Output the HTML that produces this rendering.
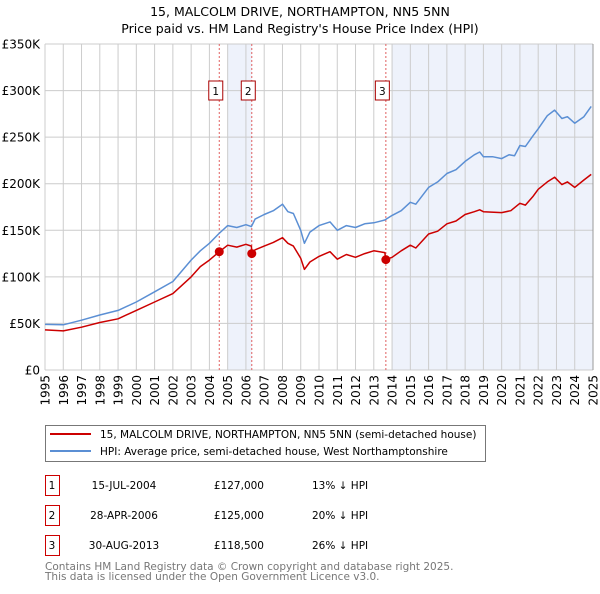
<!DOCTYPE html>
<html><head><meta charset="utf-8"><style>
body{margin:0;background:#fff;font-family:"DejaVu Sans","Liberation Sans",sans-serif;}
svg text{font-family:"DejaVu Sans","Liberation Sans",sans-serif;}
</style></head><body>
<svg id="c" width="600" height="590" viewBox="0 0 600 590" xmlns="http://www.w3.org/2000/svg">
<text x="300" y="16" text-anchor="middle" font-size="12.5" fill="#000">15, MALCOLM DRIVE, NORTHAMPTON, NN5 5NN</text>
<text x="300" y="33" text-anchor="middle" font-size="12.5" fill="#000">Price paid vs. HM Land Registry's House Price Index (HPI)</text>
<g id="plot"></g>
<rect x="45.5" y="425.5" width="440" height="36" fill="#fff" stroke="#777"/>
<line x1="50" y1="434" x2="91" y2="434" stroke="#cc0000" stroke-width="2"/>
<text x="100" y="438" font-size="10.5">15, MALCOLM DRIVE, NORTHAMPTON, NN5 5NN (semi-detached house)</text>
<line x1="50" y1="451" x2="91" y2="451" stroke="#5b8fd4" stroke-width="2"/>
<text x="100" y="455" font-size="10.5">HPI: Average price, semi-detached house, West Northamptonshire</text>
<g id="table" font-size="10.5"></g>
<text x="45" y="570" font-size="10.5" fill="#777">Contains HM Land Registry data © Crown copyright and database right 2025.</text>
<text x="45" y="580" font-size="10.5" fill="#777">This data is licensed under the Open Government Licence v3.0.</text>
</svg>
<script>
const hpiYears=[1995,1996,1997,1998,1999,2000,2001,2002,2003,2003.5,2004,2004.5,2005,2005.5,2006,2006.3,2006.5,2007,2007.5,2008,2008.3,2008.6,2009,2009.2,2009.5,2010,2010.6,2011,2011.5,2012,2012.5,2013,2013.6,2014,2014.5,2015,2015.3,2016,2016.5,2017,2017.5,2018,2018.5,2018.8,2019,2019.5,2020,2020.4,2020.7,2021,2021.3,2021.7,2022,2022.5,2022.9,2023.3,2023.6,2024,2024.5,2024.9];
const hpiValues=[49,48.5,53.5,59,64,73,84,95,118,128,136,146,155,153,156,154,162,167,171,178,170,168,150,136,148,155,159,150,155,153,157,158,161,166,171,180,178,196,202,211,215,224,231,234,229,229,227,231,230,241,240,251,259,273,279,270,272,265,272,283];
const priceYears=[1995,1996,1997,1998,1999,2000,2001,2002,2003,2003.5,2004,2004.54,2005,2005.5,2006,2006.3,2006.32,2006.5,2007,2007.5,2008,2008.3,2008.6,2009,2009.2,2009.5,2010,2010.6,2011,2011.5,2012,2012.5,2013,2013.6,2013.66,2014,2014.5,2015,2015.3,2016,2016.5,2017,2017.5,2018,2018.5,2018.8,2019,2020,2020.5,2021,2021.3,2021.7,2022,2022.5,2022.9,2023.3,2023.6,2024,2024.5,2024.9];
const priceValues=[43,42,46,51,55,64,73,82,100,111,118,127,134,132,135,133,125,129,133,137,142,136,133,120,108,116,122,127,119,124,121,125,128,126,118.5,121,128,134,131,146,149,157,160,167,170,172,170,169,171,179,177,186,194,202,207,199,202,196,204,210];
const saleYears=[2004.54,2006.32,2013.66];
const saleValues=[127,125,118.5];
const saleLabels=["1","2","3"];
const saleDates=["15-JUL-2004","28-APR-2006","30-AUG-2013"];
const salePrices=["£127,000","£125,000","£118,500"];
const saleDiffs=["13% ↓ HPI","20% ↓ HPI","26% ↓ HPI"];
const yTicks=[0,50,100,150,200,250,300,350];
const yTickLabels=["£0","£50K","£100K","£150K","£200K","£250K","£300K","£350K"];
const xTicks=[1995,1996,1997,1998,1999,2000,2001,2002,2003,2004,2005,2006,2007,2008,2009,2010,2011,2012,2013,2014,2015,2016,2017,2018,2019,2020,2021,2022,2023,2024,2025];

const NS="http://www.w3.org/2000/svg";
const X0=45,X1=593,Y0=370,Y1=44;
const xs=y=>X0+(y-1995)/30*(X1-X0);
const ys=v=>Y0-v/350*(Y0-Y1);
const plot=document.getElementById('plot');
function mk(tag,attrs,parent){const e=document.createElementNS(NS,tag);for(const k in attrs)e.setAttribute(k,attrs[k]);(parent||plot).appendChild(e);return e;}

let r=mk('rect',{x:X0,y:Y1,width:X1-X0,height:Y0-Y1,fill:'#fff'});


let s1=mk('rect',{x:xs(2005),y:Y1,width:xs(2006.32)-xs(2005),height:Y0-Y1,fill:'#eef2fb'});


let s2=mk('rect',{x:xs(2014),y:Y1,width:X1-xs(2014),height:Y0-Y1,fill:'#eef2fb'});



yTicks.forEach((t,i)=>{
  let g=mk('line',{x1:X0,x2:X1,y1:ys(t),y2:ys(t),stroke:'#ccc','stroke-width':1});
  
  
  let tx=mk('text',{x:40,y:ys(t)+4.5,'text-anchor':'end','font-size':12});
  tx.textContent=yTickLabels[i];
  
  
});
xTicks.forEach(t=>{
  let g=mk('line',{x1:xs(t),x2:xs(t),y1:Y1,y2:Y0,stroke:'#ccc','stroke-width':1});
  
  
  let tx=mk('text',{x:0,y:0,'text-anchor':'end','font-size':12,transform:`translate(${xs(t)+4.5},375) rotate(-90)`});
  tx.textContent=t;
  
  
});
let ax=mk('line',{x1:X1,x2:X1,y1:Y1,y2:Y0,stroke:'#999'});



saleYears.forEach((y,i)=>{
  let l=mk('line',{x1:xs(y),x2:xs(y),y1:Y1,y2:Y0,stroke:'#e06060','stroke-dasharray':'2,2','stroke-width':1});
  
  
});

function path(xa,va,color,name){
  const d=xa.map((x,i)=>(i?'L':'M')+xs(x).toFixed(1)+','+ys(va[i]).toFixed(1)).join('');
  let p=mk('path',{d:d,fill:'none',stroke:color,'stroke-width':1.5,'stroke-linejoin':'round'});
  
  
}
path(hpiYears,hpiValues,'#5b8fd4','hpi-line');
path(priceYears,priceValues,'#cc0000','price-line');

saleYears.forEach((y,i)=>{
  let c=mk('circle',{cx:xs(y),cy:ys(saleValues[i]),r:4.5,fill:'#cc0000'});
  
  
  let b=mk('rect',{x:xs(y)-10.5,y:81,width:14,height:19,fill:'#fff',stroke:'#aa0000'});
  
  
  let t=mk('text',{x:xs(y)-3.5,y:95,'text-anchor':'middle','font-size':10.5});
  t.textContent=saleLabels[i];
  
  
});

const tbl=document.getElementById('table');
saleLabels.forEach((lab,i)=>{
  const yy=475+i*30;
  let b=mk('rect',{x:45.5,y:yy+0.5,width:14,height:20,fill:'#fff',stroke:'#cc0000'},tbl);
  
  
  const cells=[[52,lab,'middle','table-index'],[124,saleDates[i],'middle','table-date'],[264,salePrices[i],'end','table-price'],[312,saleDiffs[i],'start','table-hpi-diff']];
  cells.forEach(c=>{
    let t=mk('text',{x:c[0],y:yy+14,'text-anchor':c[2]},tbl);
    t.textContent=c[1];
    
    
  });
});
</script>
</body></html>
